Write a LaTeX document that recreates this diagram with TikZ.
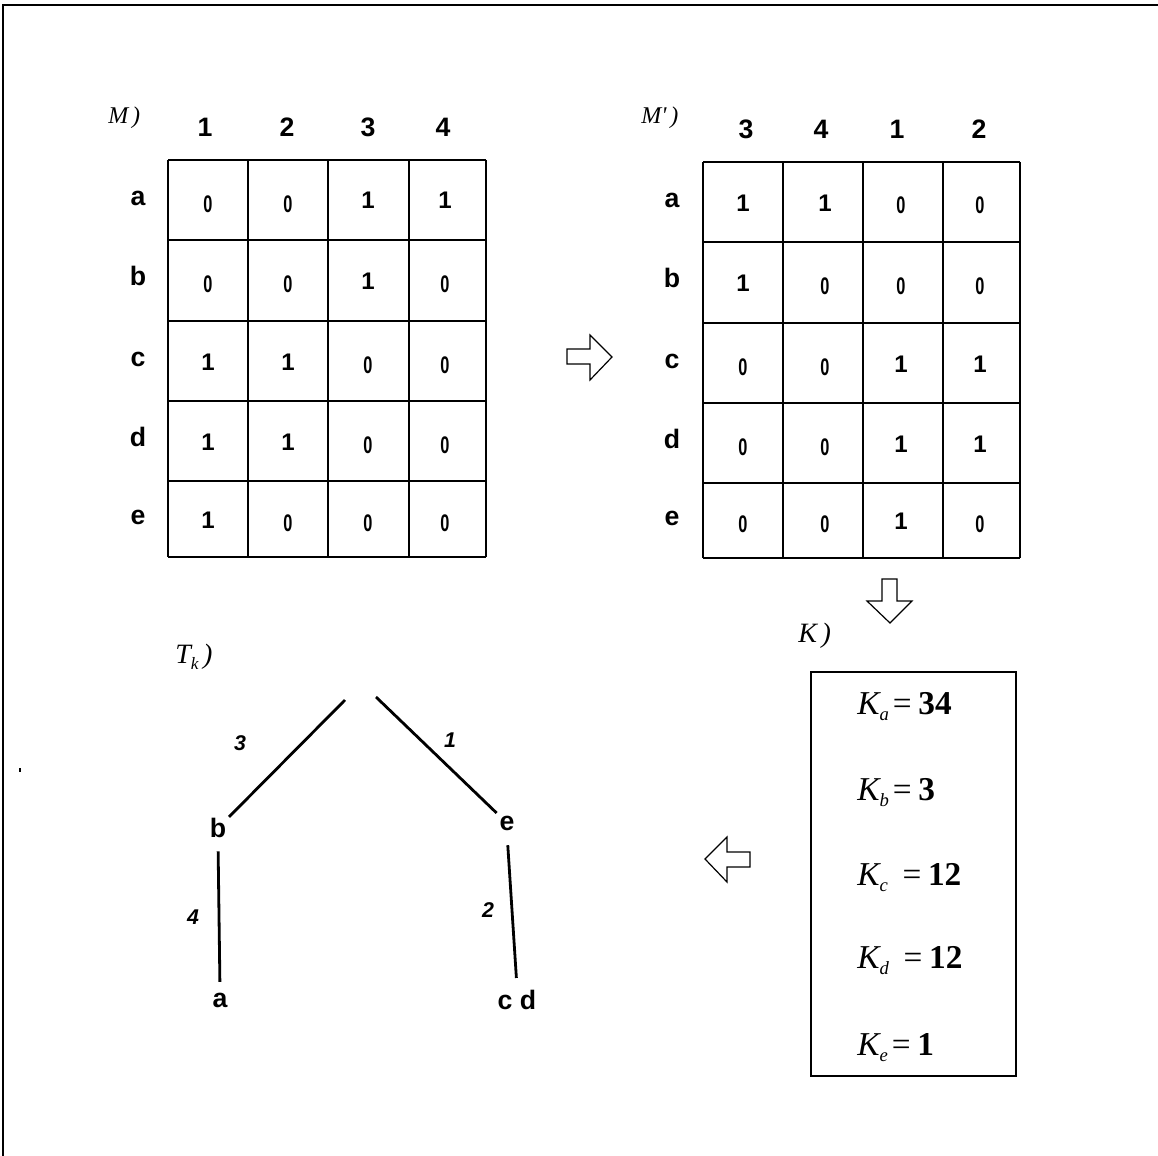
\documentclass[tikz,border=0pt]{standalone}
\usepackage{fontspec}
\setmainfont{Liberation Sans}
\newfontfamily\tms{Liberation Serif}
\usepackage{graphicx}
\newcommand{\cv}[1]{\ifnum#1=0 \scalebox{0.68}[1]{0}\else 1\fi}
\newcommand{\Ke}[1]{\textit{K}\kern-1pt\raisebox{-5pt}{\fontsize{14}{14}\selectfont\textit{#1}}}
\tikzset{
  hdr/.style={font=\fontsize{20}{22}\selectfont\bfseries, inner sep=0pt, anchor=base},
  rlab/.style={font=\fontsize{20}{22}\selectfont\bfseries, inner sep=0pt, anchor=base},
  cellv/.style={font=\fontsize{18}{20}\selectfont\bfseries, inner sep=0pt, anchor=base},
  gridline/.style={line width=1.1pt},
  lbl/.style={font=\tms\fontsize{18}{20}\selectfont\itshape, inner sep=0pt, anchor=base west},
  kent/.style={font=\tms\fontsize{25}{27}\selectfont, inner sep=0pt, anchor=base west},
  tnode/.style={font=\fontsize{20}{22}\selectfont\bfseries, inner sep=2pt},
  tedge/.style={line width=2.1pt},
  elbl/.style={font=\fontsize{16}{18}\selectfont\bfseries\itshape, inner sep=0pt},
  blockarrow/.style={line width=0.9pt, fill=white, line join=miter},
}
\begin{document}
\begin{tikzpicture}[x=0.75pt,y=-0.75pt]
\useasboundingbox (0,0) rectangle (1158,1156);
% frame
\draw[line width=1.5pt] (3,1156) -- (3,5) -- (1158,5);
\fill (19,768) rectangle (21,772);

% ---------- matrix M ----------
\node[lbl] (Mlab) at (108,123) {M\,)};
\foreach \h/\x in {1/205,2/287,3/368,4/443}
  \node[hdr] (mh-\h) at (\x,137) {\h};
\foreach \x in {168,248,328,409,486}
  \draw[gridline] (\x,160) -- (\x,557);
\foreach \y in {160,240,321,401,481,557}
  \draw[gridline] (168,\y) -- (486,\y);
\foreach \r/\y/\va/\vb/\vc/\vd in {a/200/0/0/1/1,b/280/0/0/1/0,c/361/1/1/0/0,d/441/1/1/0/0,e/519/1/0/0/0}{
  \node[rlab] (m-\r) at (138,\y+5) {\r};
  \foreach \v/\x [count=\c] in {\va/208,\vb/288,\vc/368,\vd/445}{
    \pgfmathsetmacro{\yy}{\y+12-3*\v}
    \node[cellv] (m-\r-\c) at (\x,\yy) {\cv{\v}};
  }
}

% ---------- matrix M' ----------
\node[lbl] (Mplab) at (641,124) {M'\,)};
\foreach \h/\x [count=\c] in {3/746,4/821,1/897,2/979}
  \node[hdr] (mph-\c) at (\x,139) {\h};
\foreach \x in {703,783,863,943,1020}
  \draw[gridline] (\x,162) -- (\x,558);
\foreach \y in {162,242,323,403,483,558}
  \draw[gridline] (703,\y) -- (1020,\y);
\foreach \r/\y/\va/\vb/\vc/\vd in {a/202/1/1/0/0,b/282/1/0/0/0,c/363/0/0/1/1,d/443/0/0/1/1,e/520/0/0/1/0}{
  \node[rlab] (mp-\r) at (672,\y+5) {\r};
  \foreach \v/\x [count=\c] in {\va/743,\vb/825,\vc/901,\vd/980}{
    \pgfmathsetmacro{\yy}{\y+12-3*\v}
    \node[cellv] (mp-\r-\c) at (\x,\yy) {\cv{\v}};
  }
}

% ---------- block arrows ----------
\draw[blockarrow] (567,349) -- (590,349) -- (590,335) -- (612,357) -- (590,380) -- (590,364) -- (567,364) -- cycle;
\draw[blockarrow] (882,579) -- (897,579) -- (897,601) -- (912,601) -- (890,623) -- (867,601) -- (882,601) -- cycle;
\draw[blockarrow] (750,852) -- (727,852) -- (727,837) -- (705,859) -- (727,882) -- (727,867) -- (750,867) -- cycle;

% ---------- K ----------
\node[lbl, font=\tms\fontsize{21}{23}\selectfont\itshape] (Klab) at (798,642) {K\,)};
\draw[gridline] (811,672) rectangle (1016,1076);
\node[kent] (ka) at (857,714) {\Ke{a}\hspace{3pt}=\hspace{5pt}\textbf{34}};
\node[kent] (kb) at (857,800) {\Ke{b}\hspace{3pt}=\hspace{5pt}\textbf{3}};
\node[kent] (kc) at (857,885) {\Ke{c}\hspace{11pt}=\hspace{5pt}\textbf{12}};
\node[kent] (kd) at (857,968) {\Ke{d}\hspace{11pt}=\hspace{5pt}\textbf{12}};
\node[kent] (ke) at (857,1055) {\Ke{e}\hspace{3pt}=\hspace{5pt}\textbf{1}};

% ---------- tree ----------
\node[lbl, font=\tms\fontsize{21}{23}\selectfont\itshape] (Tlab) at (175,663)
  {T\raisebox{-5pt}{\fontsize{13}{13}\selectfont\textit{k}}\,)};
\coordinate (rootL) at (345,700);
\coordinate (rootR) at (376,697);
\node[tnode] (b) at (218,828) {b};
\node[tnode] (e) at (507,823) {e};
\node[tnode] (a) at (220,1000) {a};
\node[tnode] (cd) at (517,1000) {c d};
\draw[tedge] (rootL) -- (b);
\draw[tedge] (rootR) -- (e);
\draw[tedge, shorten <=8pt, shorten >=6pt] (b.south) -- (a.north);
\draw[tedge, shorten <=9pt, shorten >=7pt] (e.south) -- (cd.north);
\node[elbl] (l3) at (240,743) {3};
\node[elbl] (l1) at (450,740) {1};
\node[elbl] (l4) at (193,917) {4};
\node[elbl] (l2) at (488,910) {2};
\end{tikzpicture}
\end{document}
